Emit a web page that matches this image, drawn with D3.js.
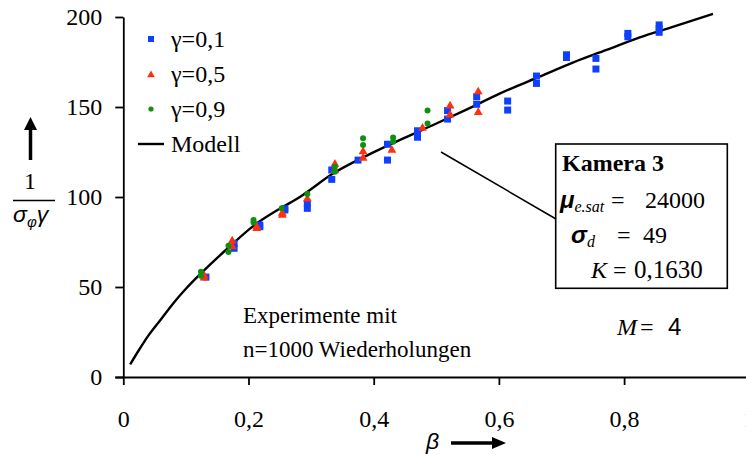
<!DOCTYPE html>
<html>
<head>
<meta charset="utf-8">
<script src="https://cdn.jsdelivr.net/npm/d3@7"></script>
<style>
  body { margin: 0; background: #fff; }
  svg { display: block; }
</style>
</head>
<body>
<svg id="chart"></svg>
<script>
// data: [beta, 1/(sigma*gamma)]
var gamma01 = [
  [0.132, 55.5],
  [0.177, 74.3], [0.177, 71.5],
  [0.218, 84.4], [0.218, 83.5],
  [0.258, 92.8], [0.258, 93.5],
  [0.294, 96.5], [0.294, 93.7],
  [0.333, 115], [0.333, 109.8],
  [0.375, 120.5],
  [0.422, 129.3], [0.422, 120.5],
  [0.470, 136.8], [0.470, 133.2],
  [0.518, 148], [0.518, 143.3],
  [0.5645, 155.7], [0.5645, 151.5],
  [0.614, 153.3], [0.614, 148.3],
  [0.660, 167.2], [0.660, 163.1],
  [0.708, 179], [0.708, 177.5],
  [0.755, 177], [0.755, 171.1],
  [0.806, 190.9], [0.806, 189],
  [0.856, 195.6], [0.856, 193.5], [0.856, 191.5]
];
var gamma05 = [
  [0.129, 56.7], [0.129, 55.5],
  [0.174, 76.1], [0.174, 72.9],
  [0.213, 83], [0.213, 84],
  [0.254, 90.4], [0.254, 91.5],
  [0.294, 99.3],
  [0.338, 118.7], [0.338, 115],
  [0.383, 125.6], [0.383, 122],
  [0.429, 126.5],
  [0.478, 138.7],
  [0.522, 151.1], [0.522, 146.1],
  [0.567, 158.9], [0.567, 147.4]
];
var gamma09 = [
  [0.124, 58.5], [0.124, 56.3],
  [0.168, 72.9], [0.168, 69.4],
  [0.208, 87.2], [0.208, 85.9],
  [0.253, 93.7],
  [0.294, 101.7],
  [0.338, 116.8], [0.338, 114],
  [0.383, 132.6], [0.383, 128.9],
  [0.431, 133], [0.431, 130.7],
  [0.486, 140.9], [0.486, 148.1]
];
var modell = [
  [0.011, 7], [0.025, 15], [0.04, 23], [0.06, 32], [0.08, 41], [0.1, 49],
  [0.1225, 57], [0.17, 72.5], [0.21, 84.5], [0.25, 93.5], [0.282, 100],
  [0.335, 113], [0.389, 123], [0.442, 131.7], [0.495, 140], [0.549, 148.7],
  [0.602, 157.6], [0.666, 167], [0.719, 174.8], [0.772, 181.7], [0.825, 188.7],
  [0.879, 194.6], [0.942, 201.7]
];
var xTicks = [0, 0.2, 0.4, 0.6, 0.8, 1];
var yTicks = [0, 50, 100, 150, 200];
var legendLabels = ["\u03b3=0,1", "\u03b3=0,5", "\u03b3=0,9", "Modell"];

var width = 746, height = 455;
var blue = "#1040ff", red = "#ff3010", green = "#109010";
var SERIF = "'Liberation Serif', 'DejaVu Serif', serif";
var SANS = "'Liberation Sans', 'DejaVu Sans', sans-serif";

var svg = d3.select('#chart')
    .attr('width', width)
    .attr('height', height);

var xScale = d3.scaleLinear().domain([0, 1]).range([123.3, 749.3]);
var yScale = d3.scaleLinear().domain([0, 200]).range([377, 17]);

var fmt = function(d) { return String(d).replace('.', ','); };

// axes
var gx = svg.append('g')
    .attr('transform', 'translate(0,' + yScale(0) + ')')
    .call(d3.axisBottom(xScale).tickValues(xTicks).tickFormat(fmt)
        .tickSize(8).tickSizeOuter(0).tickPadding(26));
var gy = svg.append('g')
    .attr('transform', 'translate(' + xScale(0) + ',0)')
    .call(d3.axisLeft(yScale).tickValues(yTicks)
        .tickSize(8).tickSizeOuter(0).tickPadding(13));

[gx, gy].forEach(function(g) {
    g.attr('font-family', SERIF).attr('font-size', 24);
    g.selectAll('path, line').attr('stroke', '#000').attr('stroke-width', 1.8);
    g.selectAll('text').attr('fill', '#000');
});
gx.selectAll('text').attr('dy', '0.66em');
gx.select('.domain').attr('d', 'M' + (xScale(0) - 8) + ',0.5H' + width);

// model line
var line = d3.line()
    .x(function(d) { return xScale(d[0]); })
    .y(function(d) { return yScale(d[1]); })
    .curve(d3.curveMonotoneX);

svg.append('path')
    .datum(modell)
    .attr('d', line)
    .attr('fill', 'none')
    .attr('stroke', '#000')
    .attr('stroke-width', 2.4);

// markers
var tri = d3.symbol().type(d3.symbolTriangle);

svg.selectAll('.sq')
    .data(gamma01)
    .enter().append('rect')
    .attr('class', 'sq')
    .attr('x', function(d) { return xScale(d[0]) - 3.5; })
    .attr('y', function(d) { return yScale(d[1]) - 3.5; })
    .attr('width', 7).attr('height', 7)
    .attr('fill', blue);

svg.selectAll('.tri')
    .data(gamma05)
    .enter().append('path')
    .attr('class', 'tri')
    .attr('d', tri.size(34))
    .attr('transform', function(d) { return 'translate(' + xScale(d[0]) + ',' + (yScale(d[1]) + 0.8) + ')'; })
    .attr('fill', red);

svg.selectAll('.dot')
    .data(gamma09)
    .enter().append('circle')
    .attr('class', 'dot')
    .attr('cx', function(d) { return xScale(d[0]); })
    .attr('cy', function(d) { return yScale(d[1]); })
    .attr('r', 3)
    .attr('fill', green);

// helper for text
function txt(x, y, s, family, size) {
    return svg.append('text').attr('x', x).attr('y', y)
        .attr('font-family', family).attr('font-size', size || 24)
        .attr('fill', '#000').text(s);
}

// legend
var legY = [39, 74, 109, 144];
var leg = svg.append('g');
leg.append('rect').attr('x', 148).attr('y', legY[0] - 3).attr('width', 6).attr('height', 6).attr('fill', blue);
leg.append('path').attr('d', d3.symbol().type(d3.symbolTriangle).size(26)())
    .attr('transform', 'translate(151,' + (legY[1] + 1) + ')').attr('fill', red);
leg.append('circle').attr('cx', 151).attr('cy', legY[2]).attr('r', 2.6).attr('fill', green);
leg.append('line').attr('x1', 138).attr('x2', 164).attr('y1', legY[3]).attr('y2', legY[3])
    .attr('stroke', '#000').attr('stroke-width', 2.4);
legendLabels.forEach(function(d, i) {
    txt(171, legY[i] + 8, d, SERIF);
});

// y label with arrow
svg.append('line').attr('x1', 30.5).attr('x2', 30.5).attr('y1', 160).attr('y2', 128)
    .attr('stroke', '#000').attr('stroke-width', 3.5);
svg.append('path').attr('d', 'M24,130 L37,130 L30.5,117 Z').attr('fill', '#000');
txt(30, 189, '1', SERIF).attr('text-anchor', 'middle');
svg.append('line').attr('x1', 13).attr('x2', 55).attr('y1', 200.5).attr('y2', 200.5)
    .attr('stroke', '#000').attr('stroke-width', 1.3);
var yl = txt(13, 222, '', SANS, 23).attr('font-style', 'italic');
yl.append('tspan').text('\u03c3');
yl.append('tspan').attr('dy', 5).attr('font-size', 15).text('\u03c6');
yl.append('tspan').attr('dy', -5).text('\u03b3');

// x label with arrow
txt(426, 449, '\u03b2', SANS, 23).attr('font-style', 'italic');
svg.append('line').attr('x1', 451).attr('x2', 494).attr('y1', 443).attr('y2', 443)
    .attr('stroke', '#000').attr('stroke-width', 3.5);
svg.append('path').attr('d', 'M492,437 L506,443 L492,449 Z').attr('fill', '#000');

// annotation text
txt(243, 323, 'Experimente mit', SERIF, 23);
txt(243, 357, 'n=1000 Wiederholungen', SERIF, 23);

// leader line and box
svg.append('line').attr('x1', 441).attr('y1', 152).attr('x2', 556).attr('y2', 219)
    .attr('stroke', '#000').attr('stroke-width', 1.5);
svg.append('rect').attr('x', 555.7).attr('y', 144).attr('width', 171.6).attr('height', 144.3)
    .attr('fill', '#fff').attr('stroke', '#000').attr('stroke-width', 1.6);
txt(562, 171, 'Kamera 3', SERIF).attr('font-weight', 'bold');

var r1 = txt(560, 208, '', SERIF);
r1.append('tspan').attr('font-family', SANS).attr('font-style', 'italic').attr('font-weight', 'bold').text('\u03bc');
r1.append('tspan').attr('dy', 4).attr('font-size', 16).attr('font-style', 'italic').text('e.sat');
r1.append('tspan').attr('dy', -4).attr('x', 611).text('=');
r1.append('tspan').attr('x', 645).text('24000');

var r2 = txt(571, 243, '', SERIF);
r2.append('tspan').attr('font-family', SANS).attr('font-style', 'italic').attr('font-weight', 'bold').text('\u03c3');
r2.append('tspan').attr('dy', 4).attr('font-size', 16).attr('font-style', 'italic').text('d');
r2.append('tspan').attr('dy', -4).attr('x', 617).text('=');
r2.append('tspan').attr('x', 643).text('49');

var r3 = txt(591, 278, '', SERIF);
r3.append('tspan').attr('font-style', 'italic').text('K');
r3.append('tspan').attr('x', 613).text('=');
r3.append('tspan').attr('x', 634).attr('font-size', 25).text('0,1630');

var r4 = txt(617, 335, '', SERIF);
r4.append('tspan').attr('font-style', 'italic').text('M');
r4.append('tspan').attr('x', 640).text('=');
r4.append('tspan').attr('font-family', SANS).attr('x', 668).text('4');
</script>
</body>
</html>
